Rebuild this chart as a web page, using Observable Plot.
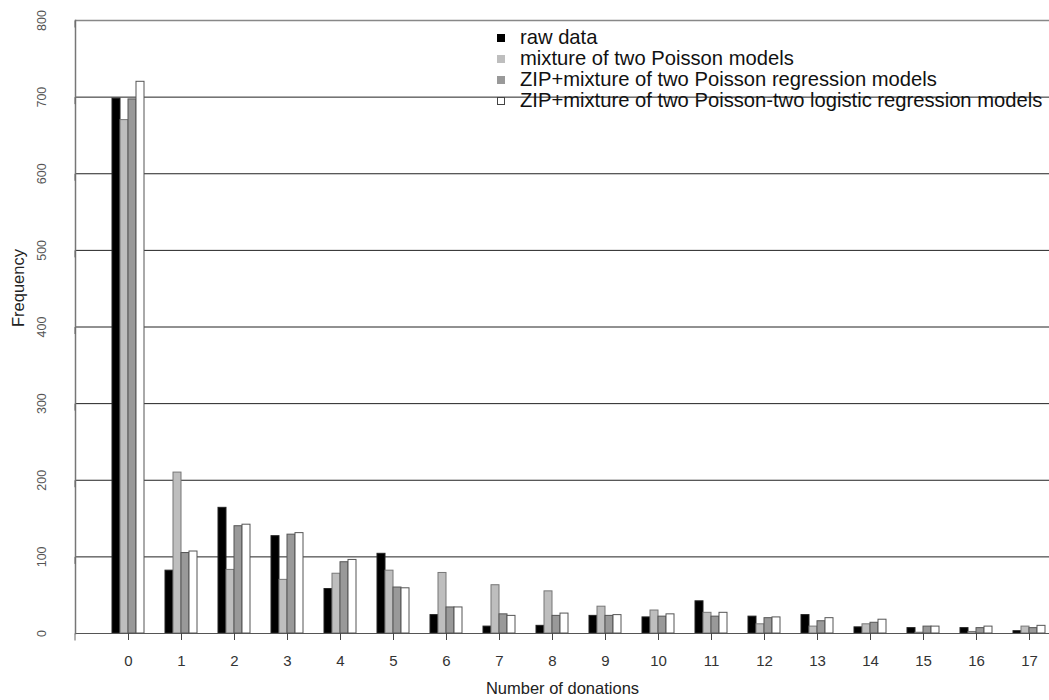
<!DOCTYPE html>
<html>
<head>
<meta charset="utf-8">
<script src="https://cdn.jsdelivr.net/npm/d3@7"></script>
<script src="https://cdn.jsdelivr.net/npm/@observablehq/plot@0.6"></script>
<style>
  html, body { margin: 0; padding: 0; background: #fff; overflow: hidden; }
  #wrap { position: relative; width: 1049px; height: 700px; font-family: "Liberation Sans", Arial, sans-serif; }
  #legend { position: absolute; left: 497px; top: 27px; font-size: 20.2px; line-height: 21px; color: #111; }
  .row { display: flex; align-items: center; height: 21px; white-space: nowrap; }
  .sw { width: 8px; height: 8px; margin-right: 15px; box-sizing: border-box; }
</style>
</head>
<body>
<div id="wrap"></div>
<script>
// Categories (number of donations)
const categories = [0, 1, 2, 3, 4, 5, 6, 7, 8, 9, 10, 11, 12, 13, 14, 15, 16, 17];
// Series values (frequency)
const rawData   = [698, 82, 164, 127, 58, 104, 24, 9, 10, 23, 21, 42, 22, 24, 8, 7, 7, 3];
const mixPois   = [670, 210, 83, 70, 78, 82, 79, 63, 55, 35, 30, 27, 12, 9, 12, 1, 2, 9];
const zipReg    = [697, 105, 140, 129, 93, 60, 34, 25, 23, 23, 22, 22, 20, 16, 14, 9, 7, 7];
const zipLogReg = [720, 107, 142, 131, 96, 59, 34, 23, 26, 24, 25, 27, 21, 20, 18, 9, 9, 10];
// Series names
const seriesNames = [
  "raw data",
  "mixture of two Poisson models",
  "ZIP+mixture of two Poisson regression models",
  "ZIP+mixture of two Poisson-two logistic regression models"
];
const seriesFill = ["#000000", "#bebebe", "#999999", "#ffffff"];
const seriesStroke = ["#222222", "#777777", "#555555", "#555555"];
// Axis ticks
const yTicks = [0, 100, 200, 300, 400, 500, 600, 700, 800];
const gridTicks = [100, 200, 300, 400, 500, 600, 700];

const seriesValues = [rawData, mixPois, zipReg, zipLogReg];
const table = categories.map((c, i) => ({
  cat: c,
  v0: rawData[i], v1: mixPois[i], v2: zipReg[i], v3: zipLogReg[i]
}));

const barW = 8;
const barMarks = seriesValues.map((_, s) =>
  Plot.barY(table, {
    x: "cat", y: "v" + s,
    fill: seriesFill[s], stroke: seriesStroke[s], strokeWidth: 1,
    insetLeft: s * barW, insetRight: (3 - s) * barW
  })
);

const chart = Plot.plot({
  width: 1049,
  height: 700,
  marginLeft: 75,
  marginRight: 0,
  marginTop: 20,
  marginBottom: 67,
  style: { fontFamily: "'Liberation Sans', Arial, sans-serif", background: "#fff" },
  x: { type: "band", domain: categories, paddingInner: 0.4, paddingOuter: 0.31, align: 0.9, label: null },
  y: { domain: [0, 800], label: null },
  marks: [
    Plot.ruleY(gridTicks, { stroke: "#222", strokeWidth: 1 }),
    Plot.ruleY([800], { stroke: "#888", strokeWidth: 1.5 }),
    ...barMarks,
    Plot.ruleY([0], { stroke: "#555", strokeWidth: 1.2 }),
    Plot.frame({ anchor: "left", stroke: "#777", strokeWidth: 1.5 }),
    Plot.axisX({ tickSize: 7, tickPadding: 15, fontSize: 15, fill: "#333", stroke: "#444", label: null }),
    Plot.axisY(yTicks, { tickSize: 7, tickPadding: 27, fontSize: 12.5, fill: "#555", stroke: "#666", rotate: -90, textAnchor: "middle", label: null }),
    Plot.text(["Frequency"], { frameAnchor: "left", dx: -57, rotate: -90, fontSize: 16.5, fill: "#222" }),
    Plot.text(["Number of donations"], { frameAnchor: "bottom", dy: 60, fontSize: 16.5, fill: "#222" })
  ]
});

const wrap = document.getElementById("wrap");
wrap.appendChild(chart);

const legend = document.createElement("div");
legend.id = "legend";
seriesNames.forEach((name, s) => {
  const row = document.createElement("div");
  row.className = "row";
  const sw = document.createElement("span");
  sw.className = "sw";
  sw.style.background = seriesFill[s];
  sw.style.border = s === 3 ? "1px solid #444" : "none";
  const t = document.createElement("span");
  t.textContent = name;
  row.appendChild(sw);
  row.appendChild(t);
  legend.appendChild(row);
});
wrap.appendChild(legend);
</script>
</body>
</html>
